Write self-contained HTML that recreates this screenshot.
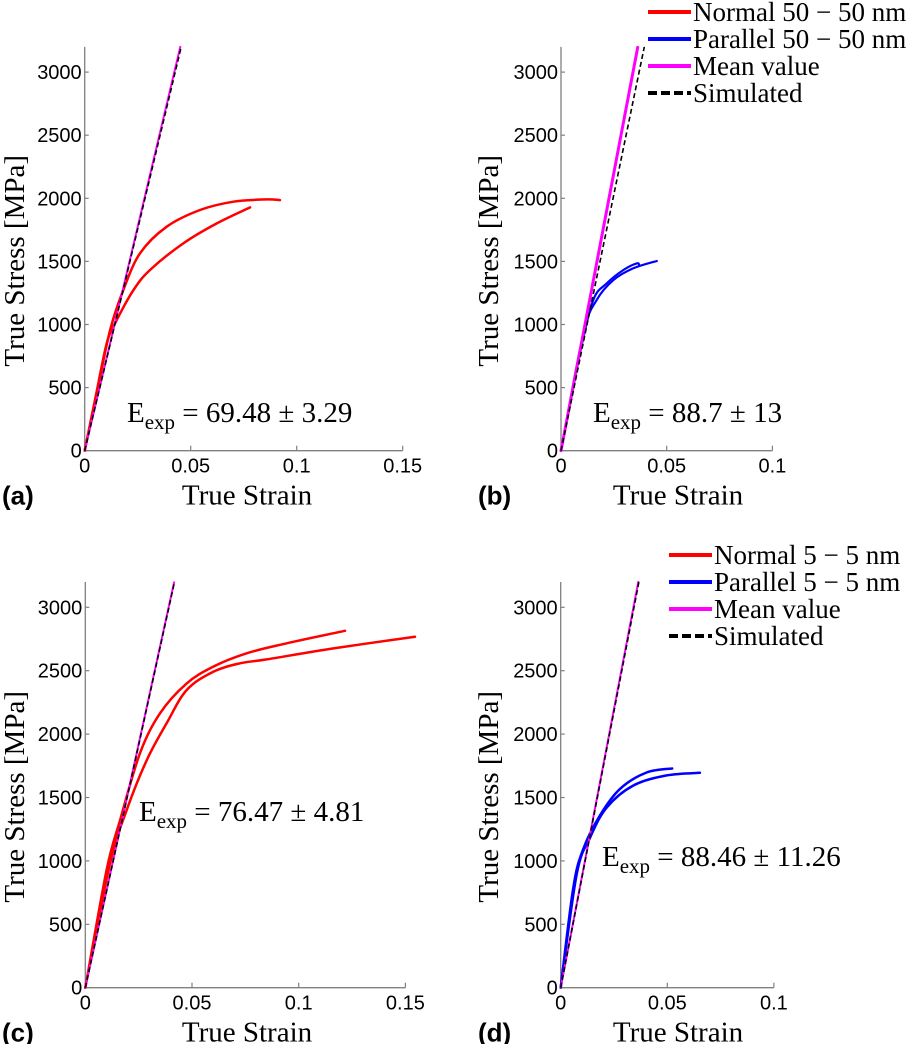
<!DOCTYPE html>
<html><head><meta charset="utf-8">
<style>
html,body{margin:0;padding:0;background:#fff;}
svg{display:block;}
.tick{font-family:"Liberation Sans",sans-serif;font-size:20px;fill:#000;}
.serif{font-family:"Liberation Serif","DejaVu Serif",serif;fill:#000;}
.plab{font-family:"Liberation Sans",sans-serif;font-size:26px;font-weight:bold;fill:#000;}
</style></head>
<body>
<svg id="fig" width="917" height="1044" viewBox="0 0 917 1044" xmlns="http://www.w3.org/2000/svg"></svg>
<script>
// Panel (a) data
const aMeanStrain = [0, 0.0451];
const aMeanStress = [0, 3200];
const aSimStrain = [0, 0.0455];
const aSimStress = [0, 3200];
const aRed1Strain = [0, 0.006, 0.012, 0.0182, 0.0261, 0.0387, 0.0544, 0.0701, 0.0858, 0.0921];
const aRed1Stress = [0, 480, 956, 1273, 1564, 1775, 1907, 1973, 1991, 1986];
const aRed2Strain = [0, 0.0052, 0.0104, 0.0151, 0.023, 0.0308, 0.0465, 0.0623, 0.078];
const aRed2Stress = [0, 430, 850, 1035, 1273, 1432, 1643, 1801, 1928];
// Panel (b) data
const bMeanStrain = [0, 0.0363];
const bMeanStress = [0, 3196];
const bSimStrain = [0, 0.0394];
const bSimStress = [0, 3200];
const bBlue1Strain = [0, 0.009, 0.0153, 0.0216, 0.0295, 0.0358, 0.037];
const bBlue1Stress = [0, 771, 1194, 1326, 1432, 1484, 1471];
const bBlue2Strain = [0, 0.0106, 0.0169, 0.0248, 0.0342, 0.0453];
const bBlue2Stress = [0, 930, 1194, 1352, 1445, 1503];
// Panel (c) data
const cMeanStrain = [0, 0.0416];
const cMeanStress = [0, 3197];
const cSimStrain = [0, 0.0418];
const cSimStress = [0, 3200];
const cRed1Strain = [0, 0.01, 0.0163, 0.0256, 0.035, 0.0475, 0.06, 0.0756, 0.0944, 0.1217];
const cRed1Stress = [0, 928, 1322, 1848, 2164, 2400, 2532, 2637, 2716, 2815];
const cRed2Strain = [0, 0.0116, 0.0194, 0.0288, 0.0381, 0.0475, 0.06, 0.0725, 0.085, 0.1163, 0.1545];
const cRed2Stress = [0, 980, 1401, 1795, 2085, 2348, 2492, 2558, 2589, 2676, 2768];
// Panel (d) data
const dMeanStrain = [0, 0.0364];
const dMeanStress = [0, 3200];
const dSimStrain = [0, 0.0367];
const dSimStress = [0, 3200];
const dBlue1Strain = [0, 0.0059, 0.0106, 0.0184, 0.0278, 0.0403, 0.0523];
const dBlue1Stress = [0, 789, 1095, 1358, 1568, 1697, 1729];
const dBlue2Strain = [0, 0.0075, 0.0138, 0.0216, 0.0341, 0.0497, 0.0653];
const dBlue2Stress = [0, 895, 1184, 1421, 1595, 1674, 1695];
// ticks
const yTicks = [0, 500, 1000, 1500, 2000, 2500, 3000];
const xTicksWide = [0, 0.05, 0.1, 0.15];
const xTicksWideLabels = ["0", "0.05", "0.1", "0.15"];
const xTicksNarrow = [0, 0.05, 0.1];
const xTicksNarrowLabels = ["0", "0.05", "0.1"];
const legendAB = ["Normal 50 \u2212 50 nm", "Parallel 50 \u2212 50 nm", "Mean value", "Simulated"];
const legendCD = ["Normal 5 \u2212 5 nm", "Parallel 5 \u2212 5 nm", "Mean value", "Simulated"];

const NS = "http://www.w3.org/2000/svg";
const fig = document.getElementById('fig');
function mk(tag, attrs, parent, text) {
  const e = document.createElementNS(NS, tag);
  for (const k in attrs) e.setAttribute(k, attrs[k]);
  if (text !== undefined) e.textContent = text;
  (parent || fig).appendChild(e);
  return e;
}
function smoothPath(pts) {
  if (pts.length < 3) return 'M' + pts.map(p => p[0].toFixed(1) + ',' + p[1].toFixed(1)).join(' L');
  let d = 'M' + pts[0][0].toFixed(1) + ',' + pts[0][1].toFixed(1);
  for (let i = 0; i < pts.length - 1; i++) {
    const p0 = pts[Math.max(0, i - 1)], p1 = pts[i], p2 = pts[i + 1], p3 = pts[Math.min(pts.length - 1, i + 2)];
    const c1x = p1[0] + (p2[0] - p0[0]) / 6, c1y = p1[1] + (p2[1] - p0[1]) / 6;
    const c2x = p2[0] - (p3[0] - p1[0]) / 6, c2y = p2[1] - (p3[1] - p1[1]) / 6;
    d += ` C${c1x.toFixed(1)},${c1y.toFixed(1)} ${c2x.toFixed(1)},${c2y.toFixed(1)} ${p2[0].toFixed(1)},${p2[1].toFixed(1)}`;
  }
  return d;
}

function panel(p) {
  const g = mk('g', {});
  
  
  const X = v => p.x0 + v / 0.05 * p.px05;
  const Y = v => p.y0 - v / 1000 * p.py1000;
  const xMax = p.xt[p.xt.length - 1];
  const ax = mk('path', {d: `M${X(0)},${Y(3200)} L${X(0)},${Y(0)} L${X(xMax)},${Y(0)}`, fill: 'none', stroke: '#808080', 'stroke-width': 1.3}, g);
  
  
  yTicks.forEach(t => {
    mk('line', {x1: X(0), x2: X(0) + 4, y1: Y(t), y2: Y(t), stroke: '#808080', 'stroke-width': 1.2}, g);
    const tl = mk('text', {x: X(0) - 3, y: Y(t) + 7, 'text-anchor': 'end', class: 'tick'}, g, String(t));
    
    
  });
  p.xt.forEach((t, i) => {
    mk('line', {x1: X(t), x2: X(t), y1: Y(0), y2: Y(0) - 5, stroke: '#808080', 'stroke-width': 1.2}, g);
    const tl = mk('text', {x: X(t), y: Y(0) + 22, 'text-anchor': 'middle', class: 'tick'}, g, p.xl[i]);
    
    
  });
  p.series.forEach(s => {
    const pts = s.xs.map((v, i) => [X(v), Y(s.ys[i])]);
    const attrs = {d: smoothPath(pts), fill: 'none', stroke: s.color, 'stroke-width': s.w, 'stroke-linejoin': 'round', 'stroke-linecap': 'round'};
    if (s.dash) { attrs['stroke-dasharray'] = s.dash; attrs['stroke-linecap'] = 'butt'; }
    const el = mk('path', attrs, g);
    
    
  });
  const xt = mk('text', {x: p.xTitleX, y: Y(0) + 54, 'text-anchor': 'middle', class: 'serif', 'font-size': 29}, g, 'True Strain');
  
  
  const cy = (Y(0) + Y(3200)) / 2 + 12;
  const yt = mk('text', {x: 0, y: 0, transform: `translate(${p.yTitleX},${cy}) rotate(-90)`, 'text-anchor': 'middle', class: 'serif', 'font-size': 29}, g, 'True Stress [MPa]');
  
  
  const pl = mk('text', {x: p.labX, y: Y(0) + 54, class: 'plab'}, g, '(' + p.id + ')');
  
  
  const an = mk('text', {x: p.annX, y: p.annY, class: 'serif', 'font-size': 29}, g);
  
  
  mk('tspan', {}, an, 'E');
  mk('tspan', {dy: 7, 'font-size': 21}, an, 'exp');
  mk('tspan', {dy: -7}, an, ' = ' + p.ann);
  if (p.legend) {
    const lg = mk('g', {}, g);
    
    
    const cols = ['#ff0000', '#0000ff', '#ff00ff', '#000000'];
    p.legend.forEach((txt, i) => {
      const yy = p.legY + i * 27;
      const ln = mk('line', {x1: p.legX, x2: p.legX + 43, y1: yy, y2: yy, stroke: cols[i], 'stroke-width': 4}, lg);
      if (i === 3) ln.setAttribute('stroke-dasharray', '9,4');
      const t = mk('text', {x: p.legX + 45, y: yy + 9, class: 'serif', 'font-size': 27}, lg, txt);
      
      
    });
  }
}

panel({id: 'a', x0: 84.7, y0: 450.7, px05: 106, py1000: 126.2, xt: xTicksWide, xl: xTicksWideLabels,
  xTitleX: 247, yTitleX: 24, labX: 2, annX: 127, annY: 422, ann: '69.48 \u00b1 3.29',
  series: [
    {name: 'normal-curve-1', xs: aRed1Strain, ys: aRed1Stress, color: '#ff0000', w: 2.5},
    {name: 'normal-curve-2', xs: aRed2Strain, ys: aRed2Stress, color: '#ff0000', w: 2.5},
    {name: 'mean-line', xs: aMeanStrain, ys: aMeanStress, color: '#ff00ff', w: 2},
    {name: 'simulated-line', xs: aSimStrain, ys: aSimStress, color: '#000000', w: 1.6, dash: '5,3'}]});
panel({id: 'b', x0: 561, y0: 450.7, px05: 105.7, py1000: 126.2, xt: xTicksNarrow, xl: xTicksNarrowLabels,
  xTitleX: 678, yTitleX: 498, labX: 478, annX: 593, annY: 422, ann: '88.7 \u00b1 13',
  legend: legendAB, legX: 648, legY: 12,
  series: [
    {name: 'parallel-curve-1', xs: bBlue1Strain, ys: bBlue1Stress, color: '#0000ff', w: 2.2},
    {name: 'parallel-curve-2', xs: bBlue2Strain, ys: bBlue2Stress, color: '#0000ff', w: 2.2},
    {name: 'mean-line', xs: bMeanStrain, ys: bMeanStress, color: '#ff00ff', w: 3},
    {name: 'simulated-line', xs: bSimStrain, ys: bSimStress, color: '#000000', w: 1.6, dash: '5,3'}]});
panel({id: 'c', x0: 85.3, y0: 987.7, px05: 106.7, py1000: 126.8, xt: xTicksWide, xl: xTicksWideLabels,
  xTitleX: 247, yTitleX: 24, labX: 2, annX: 139, annY: 821, ann: '76.47 \u00b1 4.81',
  series: [
    {name: 'normal-curve-1', xs: cRed1Strain, ys: cRed1Stress, color: '#ff0000', w: 2.5},
    {name: 'normal-curve-2', xs: cRed2Strain, ys: cRed2Stress, color: '#ff0000', w: 2.5},
    {name: 'mean-line', xs: cMeanStrain, ys: cMeanStress, color: '#ff00ff', w: 2},
    {name: 'simulated-line', xs: cSimStrain, ys: cSimStress, color: '#000000', w: 1.6, dash: '5,3'}]});
panel({id: 'd', x0: 560.7, y0: 987.7, px05: 106.6, py1000: 126.8, xt: xTicksNarrow, xl: xTicksNarrowLabels,
  xTitleX: 678, yTitleX: 498, labX: 478, annX: 602, annY: 866, ann: '88.46 \u00b1 11.26',
  legend: legendCD, legX: 669, legY: 555,
  series: [
    {name: 'parallel-curve-1', xs: dBlue1Strain, ys: dBlue1Stress, color: '#0000ff', w: 2.5},
    {name: 'parallel-curve-2', xs: dBlue2Strain, ys: dBlue2Stress, color: '#0000ff', w: 2.5},
    {name: 'mean-line', xs: dMeanStrain, ys: dMeanStress, color: '#ff00ff', w: 2},
    {name: 'simulated-line', xs: dSimStrain, ys: dSimStress, color: '#000000', w: 1.6, dash: '5,3'}]});
</script>
</body></html>
